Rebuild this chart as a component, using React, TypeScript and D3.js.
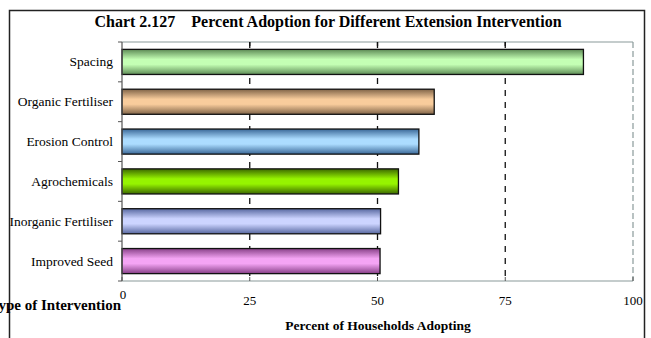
import React from "react";
import * as d3 from "d3";

const categories = ["Spacing", "Organic  Fertiliser", "Erosion Control", "Agrochemicals", "Inorganic Fertiliser", "Improved Seed"];
const values = [90.3, 61.1, 58.1, 54.1, 50.6, 50.5];
const xTicks = [0, 25, 50, 75, 100];
const centerColors = ["#c4ffb4", "#f8cc9c", "#acdcff", "#96f400", "#ccd4ff", "#f4a4f4"];
const edgeColors = ["#5e8c56", "#806448", "#3a6898", "#3c6800", "#5868a0", "#884088"];

const W = 651, H = 338;
const margin = { left: 122, right: 18, top: 42, bottom: 57 };

export default function App() {
  const x = d3.scaleLinear().domain([0, 100]).range([margin.left, W - margin.right]);
  const y = d3.scaleBand().domain(categories).range([margin.top, H - margin.bottom]).paddingInner(0.37).paddingOuter(0.185);
  const step = (H - margin.bottom - margin.top) / categories.length;
  const serif = "Liberation Serif, Times New Roman, serif";
  const top = margin.top, bottom = H - margin.bottom;
  return (
    <svg width={W} height={H} style={{ position: "absolute", left: 0, top: 0, background: "#fff" }}>
      <defs>
        {categories.map((c, i) => (
          <linearGradient key={i} id={`g${i}`} x1="0" y1="0" x2="0" y2="1">
            <stop offset="0" stopColor={edgeColors[i]} />
            <stop offset="0.4" stopColor={centerColors[i]} />
            <stop offset="0.6" stopColor={centerColors[i]} />
            <stop offset="1" stopColor={edgeColors[i]} />
          </linearGradient>
        ))}
      </defs>
      <g style={{ fontFamily: serif }}>
        {/* outer frame */}
        <rect x={9.5} y={10.5} width={635} height={H + 5} fill="none" stroke="#222" strokeWidth={1.5} />
        {/* title */}
        <text x={328} y={27} textAnchor="middle" fontWeight="bold" fontSize={16}>
          Chart 2.127{"\u00a0\u00a0\u00a0\u00a0"}Percent Adoption for Different Extension Intervention
        </text>
        {/* plot border top & right */}
        <line x1={x(0)} x2={x(100)} y1={top} y2={top} stroke="#8a9a9a" strokeWidth={1.2} />
        <line x1={x(100)} x2={x(100)} y1={top} y2={bottom} stroke="#8a9a9a" strokeWidth={1.2} strokeDasharray="6,3" />
        {/* gridlines */}
        {xTicks.filter(t => t > 0 && t < 100).map(t => (
          <line key={t} x1={x(t)} x2={x(t)} y1={top} y2={bottom} stroke="#111" strokeWidth={1.3} strokeDasharray="6,6" />
        ))}
        {xTicks.filter(t => t > 0 && t < 100).map(t => (
          <line key={"tt" + t} x1={x(t)} x2={x(t)} y1={top} y2={top + 4} stroke="#111" strokeWidth={1.3} />
        ))}
        {/* bars */}
        {categories.map((c, i) => (
          <rect key={c} x={x(0)} y={y(c)!} width={x(values[i]) - x(0)} height={y.bandwidth()} fill={`url(#g${i})`} stroke="#111" strokeWidth={1.3} />
        ))}
        {/* left axis */}
        <line x1={x(0)} x2={x(0)} y1={top} y2={bottom} stroke="#555" strokeWidth={1.2} />
        {d3.range(categories.length + 1).map(k => (
          <line key={"yt" + k} x1={x(0) - 4} x2={x(0)} y1={top + k * step} y2={top + k * step} stroke="#555" strokeWidth={1} />
        ))}
        {/* bottom axis */}
        <line x1={x(0)} x2={x(100)} y1={bottom} y2={bottom} stroke="#8a9a9a" strokeWidth={1.2} />
        {xTicks.map(t => (
          <line key={"bt" + t} x1={x(t)} x2={x(t)} y1={bottom - 4} y2={bottom} stroke="#555" strokeWidth={1} />
        ))}
        {xTicks.map(t => (
          <text key={"tl" + t} x={t === 0 ? x(t) + 1 : x(t)} y={t === 0 ? 299 : 305} textAnchor="middle" fontSize={13}>{t}</text>
        ))}
        {categories.map(c => (
          <text key={"cl" + c} x={113} y={y(c)! + y.bandwidth() / 2 + 4.5} textAnchor="end" fontSize={13.5}>{c}</text>
        ))}
        <text x={121} y={310} textAnchor="end" fontWeight="bold" fontSize={15}>Type of Intervention</text>
        <text x={378} y={330} textAnchor="middle" fontWeight="bold" fontSize={13.5}>Percent of Households Adopting</text>
      </g>
    </svg>
  );
}
